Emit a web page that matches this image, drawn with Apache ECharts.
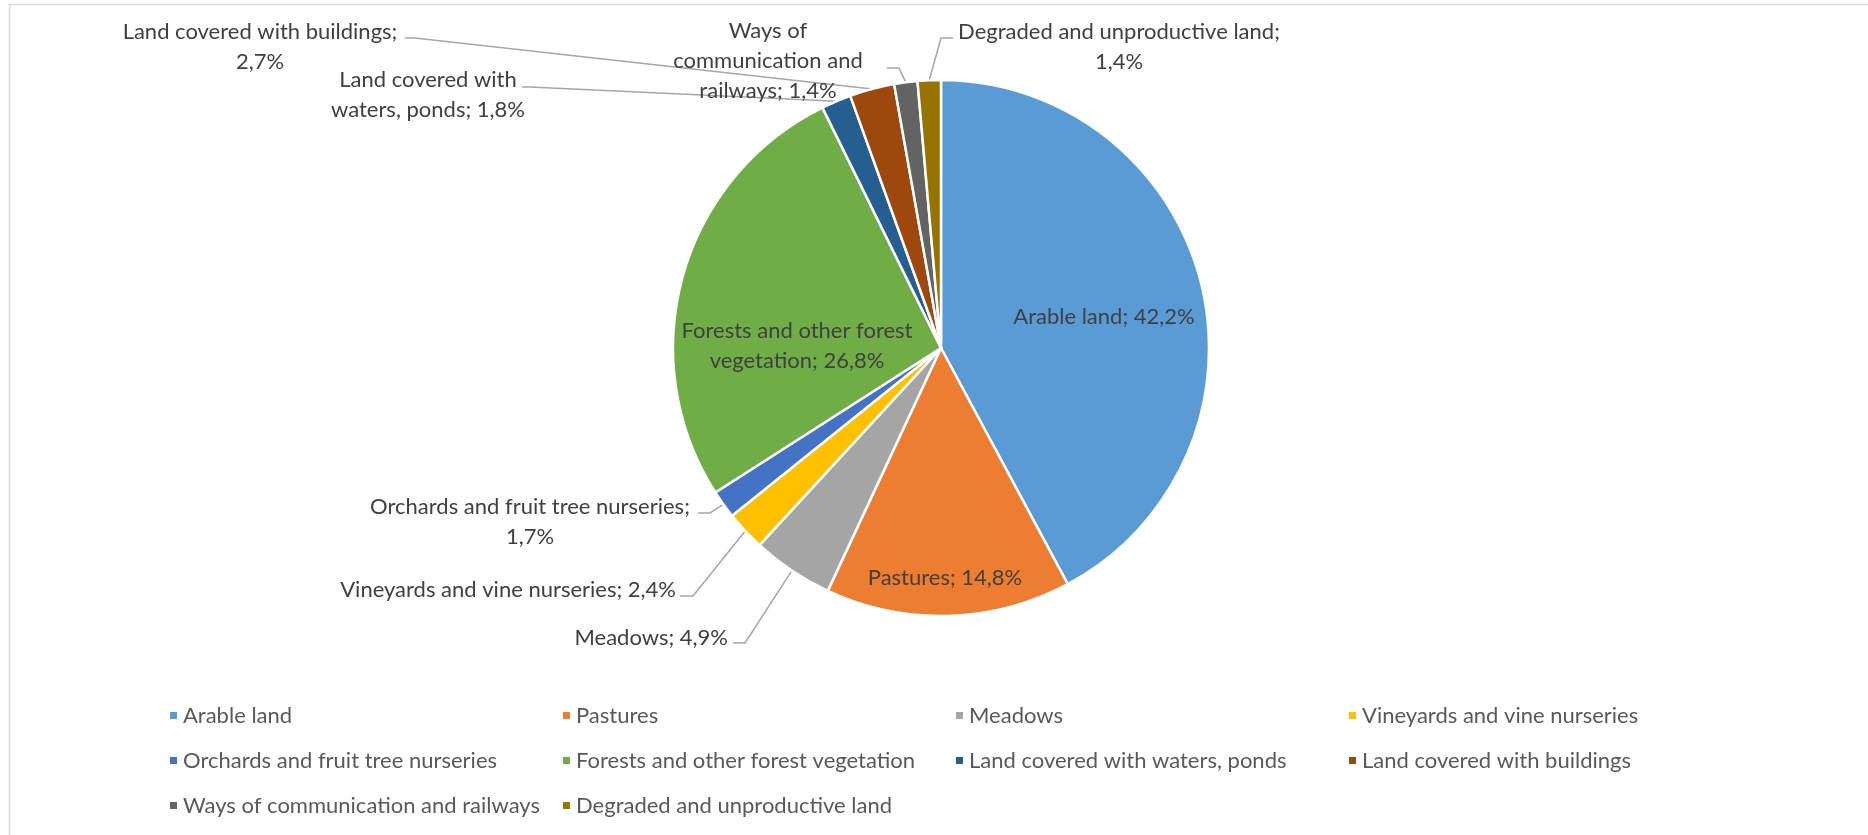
<!DOCTYPE html>
<html>
<head>
<meta charset="utf-8">
<title>Land use structure</title>
<script src="https://cdn.jsdelivr.net/npm/echarts@6/dist/echarts.min.js"></script>
<style>
  html, body { margin: 0; padding: 0; background: #ffffff; }
  #chart { width: 1868px; height: 835px; }
</style>
</head>
<body>
<div id="chart"></div>
<script>
// Land use categories and their shares (%)
const categories = [
  'Arable land',
  'Pastures',
  'Meadows',
  'Vineyards and vine nurseries',
  'Orchards and fruit tree nurseries',
  'Forests and other forest vegetation',
  'Land covered with waters, ponds',
  'Land covered with buildings',
  'Ways of communication and railways',
  'Degraded and unproductive land'
];
const shares = [42.2, 14.8, 4.9, 2.4, 1.7, 26.8, 1.8, 2.7, 1.4, 1.4];
const colors = [
  '#5B9BD5', '#ED7D31', '#A5A5A5', '#FFC000', '#4472C4',
  '#70AD47', '#255E91', '#9E480E', '#636363', '#997300'
];

// Slices whose label sits on the slice itself
const insideLabels = ['Arable land', 'Pastures', 'Forests and other forest vegetation'];

// Label placement: anchor point, alignment, words per wrapped line and leader-line elbow
const labelPlacement = {
  'Arable land': { x: 1104, y: 317, align: 'center' },
  'Pastures': { x: 945, y: 578, align: 'center' },
  'Forests and other forest vegetation': { x: 797, y: 346, align: 'center', lines: [4] },
  'Land covered with buildings': { x: 260, y: 47, align: 'center', lines: [4], elbow: [[415, 38], [405, 38]] },
  'Land covered with waters, ponds': { x: 428, y: 95, align: 'center', lines: [3], elbow: [[530, 87], [522, 87]] },
  'Ways of communication and railways': { x: 768, y: 61, align: 'center', lines: [2, 2], elbow: [[899, 68], [887, 68]] },
  'Degraded and unproductive land': { x: 1119, y: 47, align: 'center', lines: [4], elbow: [[941, 38], [953, 38]] },
  'Orchards and fruit tree nurseries': { x: 530, y: 522, align: 'center', lines: [5], elbow: [[710, 513], [698, 513]] },
  'Vineyards and vine nurseries': { x: 676, y: 590, align: 'right', elbow: [[693, 596], [680, 596]] },
  'Meadows': { x: 728, y: 638, align: 'right', elbow: [[745, 643], [733, 643]] }
};

const FONT = 'Lato, "Open Sans", sans-serif';
const fmtPct = v => v.toFixed(1).replace('.', ',') + '%';

// Build "name; value%" and wrap it into lines with the given word counts
function labelText(name, value) {
  const words = (name + '; ' + fmtPct(value)).split(' ');
  const counts = (labelPlacement[name] && labelPlacement[name].lines) || [];
  const out = [];
  let pos = 0;
  counts.forEach(n => {
    out.push(words.slice(pos, pos + n).join(' '));
    pos += n;
  });
  if (pos < words.length) out.push(words.slice(pos).join(' '));
  return out.join('\n');
}

const chart = echarts.init(document.getElementById('chart'), null, { renderer: 'canvas' });

const seriesData = categories.map((name, i) => {
  const inside = insideLabels.indexOf(name) >= 0;
  return {
    name,
    value: shares[i],
    itemStyle: { color: colors[i] },
    label: { position: inside ? 'inside' : 'outside' },
    labelLine: { show: !inside }
  };
});

const option = {
  backgroundColor: '#ffffff',
  animation: false,
  graphic: [{
    type: 'rect',
    silent: true,
    shape: { x: 9.5, y: 4.5, width: 2000, height: 1000 },
    style: { fill: 'none', stroke: '#D9D9D9', lineWidth: 1.5 }
  }],
  legend: {
    left: 168,
    top: 702,
    width: 1570,
    padding: 0,
    orient: 'horizontal',
    icon: 'rect',
    itemWidth: 9,
    itemHeight: 9,
    itemGap: 18,
    data: categories,
    textStyle: {
      fontFamily: FONT,
      fontSize: 22,
      color: '#595959',
      width: 360,
      lineHeight: 27
    }
  },
  series: [{
    type: 'pie',
    center: [941, 348],
    radius: 268,
    startAngle: 90,
    clockwise: true,
    avoidLabelOverlap: false,
    itemStyle: { borderColor: '#ffffff', borderWidth: 2.5 },
    label: {
      show: true,
      fontFamily: FONT,
      fontSize: 22,
      lineHeight: 30,
      color: '#404040',
      formatter: p => labelText(p.name, p.value)
    },
    labelLine: {
      lineStyle: { color: '#A6A6A6', width: 1.5 }
    },
    labelLayout: function (params) {
      const name = categories[params.dataIndex];
      const place = labelPlacement[name];
      const out = {
        x: place.x,
        y: place.y,
        align: place.align,
        verticalAlign: 'middle'
      };
      if (place.elbow) {
        const data = chart.getModel().getSeriesByIndex(0).getData();
        const lay = data.getItemLayout(params.dataIndex);
        const mid = (lay.startAngle + lay.endAngle) / 2;
        const p0 = [lay.cx + lay.r * Math.cos(mid), lay.cy + lay.r * Math.sin(mid)];
        out.labelLinePoints = [p0, place.elbow[0], place.elbow[1]];
      }
      return out;
    },
    emphasis: { disabled: true },
    data: seriesData
  }]
};

chart.setOption(option);
</script>
</body>
</html>
